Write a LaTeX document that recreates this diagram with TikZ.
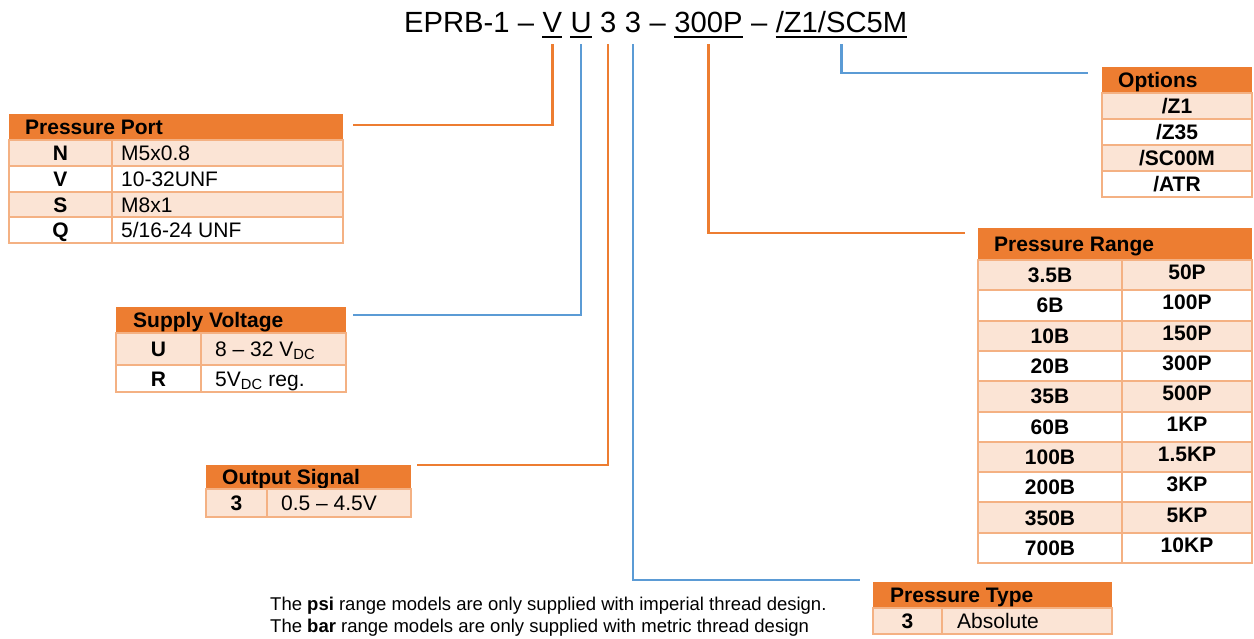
\documentclass[tikz,border=0pt]{standalone}
\usepackage{fontspec}
\setmainfont{Liberation Sans}
\usetikzlibrary{positioning}

\definecolor{hdrorange}{HTML}{ED7D31}
\definecolor{rowlight}{HTML}{FBE4D5}
\definecolor{cellline}{HTML}{F4B183}
\definecolor{lineorange}{HTML}{ED7D31}
\definecolor{lineblue}{HTML}{5B9BD5}

\tikzset{
  hdrfill/.style={fill=hdrorange},
  cell/.style={draw=cellline, line width=2pt},
  hdrtxt/.style={anchor=base west, inner sep=0, font=\fontsize{21}{24}\selectfont\bfseries},
  keytxt/.style={anchor=base, inner sep=0, font=\fontsize{21}{24}\selectfont\bfseries},
  valtxt/.style={anchor=base west, inner sep=0, font=\fontsize{21}{24}\selectfont},
  titletxt/.style={inner sep=0, font=\fontsize{29.2}{34}\selectfont},
  orline/.style={draw=lineorange, line width=2.5pt},
  blline/.style={draw=lineblue, line width=2.5pt}
}

\begin{document}
\begin{tikzpicture}[
  x=1pt, y=-1pt
]
\useasboundingbox (0,0) rectangle (1254,638);

% part number
\node[titletxt, anchor=base west] (t0) at (404,32) {EPRB-1 --};
\node[titletxt, base right=8.1pt of t0] (tv) {V};
\node[titletxt, base right=8.1pt of tv] (tu) {U};
\node[titletxt, base right=8.1pt of tu] (to) {3};
\node[titletxt, base right=8.1pt of to] (tt) {3};
\node[titletxt, base right=8.1pt of tt] (td1) {--};
\node[titletxt, base right=8.1pt of td1] (tr) {300P};
\node[titletxt, base right=8.1pt of tr] (td2) {--};
\node[titletxt, base right=8.1pt of td2] (topt) {/Z1/SC5M};
\foreach \n in {tv,tu,tr,topt}
  \draw[line width=1.8pt] ([yshift=-5pt]\n.base west) -- ([yshift=-5pt]\n.base east);

% Pressure Port
\fill[hdrfill] (9,114) rectangle (343,140);
\node[hdrtxt] (port) at (25,134.5) {Pressure Port};
\foreach \f/\k/\v [count=\i] in {rowlight/N/M5x0.8, white/V/10-32UNF, rowlight/S/M8x1, white/Q/{5/16-24 UNF}} {
  \pgfmathsetmacro\y{140+(\i-1)*25.8}
  \draw[cell, fill=\f] (9,\y) rectangle (112,\y+25.8);
  \draw[cell, fill=\f] (112,\y) rectangle (343,\y+25.8);
  \node[keytxt] (port-k\i) at (60.5,\y+20.4) {\k};
  \node[valtxt] (port-v\i) at (121,\y+20.4) {\v};
}

% Supply Voltage
\fill[hdrfill] (116,307) rectangle (346,333);
\node[hdrtxt] (volt) at (133,327.5) {Supply Voltage};
\draw[cell, fill=rowlight] (116,333) rectangle (201,365);
\draw[cell, fill=rowlight] (201,333) rectangle (346,365);
\draw[cell, fill=white] (116,365) rectangle (201,392);
\draw[cell, fill=white] (201,365) rectangle (346,392);
\node[keytxt] (volt-k1) at (158.5,356.5) {U};
\node[valtxt] (volt-v1) at (215,356.5) {8 -- 32 V\textsubscript{DC}};
\node[keytxt] (volt-k2) at (158.5,386) {R};
\node[valtxt] (volt-v2) at (215,386) {5V\textsubscript{DC} reg.};

% Output Signal
\fill[hdrfill] (206,465) rectangle (411,489);
\node[hdrtxt] (sig) at (222,484.5) {Output Signal};
\draw[cell, fill=rowlight] (206,489) rectangle (267,517);
\draw[cell, fill=rowlight] (267,489) rectangle (411,517);
\node[keytxt] (sig-k1) at (236.5,510.5) {3};
\node[valtxt] (sig-v1) at (281,510.5) {0.5 -- 4.5V};

% Options
\fill[hdrfill] (1102,67) rectangle (1252,93);
\node[hdrtxt] (opt) at (1118,87.5) {Options};
\foreach \f/\k [count=\i] in {rowlight/Z1, white/Z35, rowlight/SC00M, white/ATR} {
  \pgfmathsetmacro\y{93+(\i-1)*26}
  \draw[cell, fill=\f] (1102,\y) rectangle (1252,\y+26);
  \node[keytxt] (opt-k\i) at (1177,\y+20.5) {/\k};
}

% Pressure Range
\fill[hdrfill] (978,228) rectangle (1252,260);
\node[hdrtxt] (range) at (994,251.5) {Pressure Range};
\foreach \f/\b/\p [count=\i] in {rowlight/3.5B/50P, white/6B/100P, rowlight/10B/150P, white/20B/300P,
    rowlight/35B/500P, white/60B/1KP, rowlight/100B/1.5KP, white/200B/3KP, rowlight/350B/5KP, white/700B/10KP} {
  \pgfmathsetmacro\y{260+(\i-1)*30.3}
  \draw[cell, fill=\f] (978,\y) rectangle (1122,\y+30.3);
  \draw[cell, fill=\f] (1122,\y) rectangle (1252,\y+30.3);
  \node[keytxt] (range-b\i) at (1050,\y+22.6) {\b};
  \node[keytxt] (range-p\i) at (1187,\y+19.6) {\p};
}

% Pressure Type
\fill[hdrfill] (873,582) rectangle (1112,608);
\node[hdrtxt] (type) at (890,602.5) {Pressure Type};
\draw[cell, fill=rowlight] (873,608) rectangle (942,634);
\draw[cell, fill=rowlight] (942,608) rectangle (1112,634);
\node[keytxt] (type-k1) at (907.5,628.5) {3};
\node[valtxt] (type-v1) at (957,628.5) {Absolute};

% note
\node[valtxt, font=\fontsize{18.5}{22}\selectfont] (note1) at (270,610) {The \textbf{psi} range models are only supplied with imperial thread design.};
\node[valtxt, font=\fontsize{18.5}{22}\selectfont] (note2) at (270,632) {The \textbf{bar} range models are only supplied with metric thread design};

% connectors
\coordinate (port-end) at (353,125);
\coordinate (volt-end) at (353,315);
\coordinate (sig-end) at (417,465);
\coordinate (type-end) at (860,580);
\coordinate (range-end) at (965,233);
\coordinate (opt-end) at (1088,73);
\draw[orline] ([yshift=-12pt]tv.base) |- (port-end);
\draw[blline] ([yshift=-12pt]tu.base) |- (volt-end);
\draw[orline] ([yshift=-12pt]to.base) |- (sig-end);
\draw[blline] ([yshift=-12pt]tt.base) |- (type-end);
\draw[orline] ([yshift=-12pt]tr.base) |- (range-end);
\draw[blline] ([yshift=-12pt]topt.base) |- (opt-end);

\end{tikzpicture}
\end{document}
